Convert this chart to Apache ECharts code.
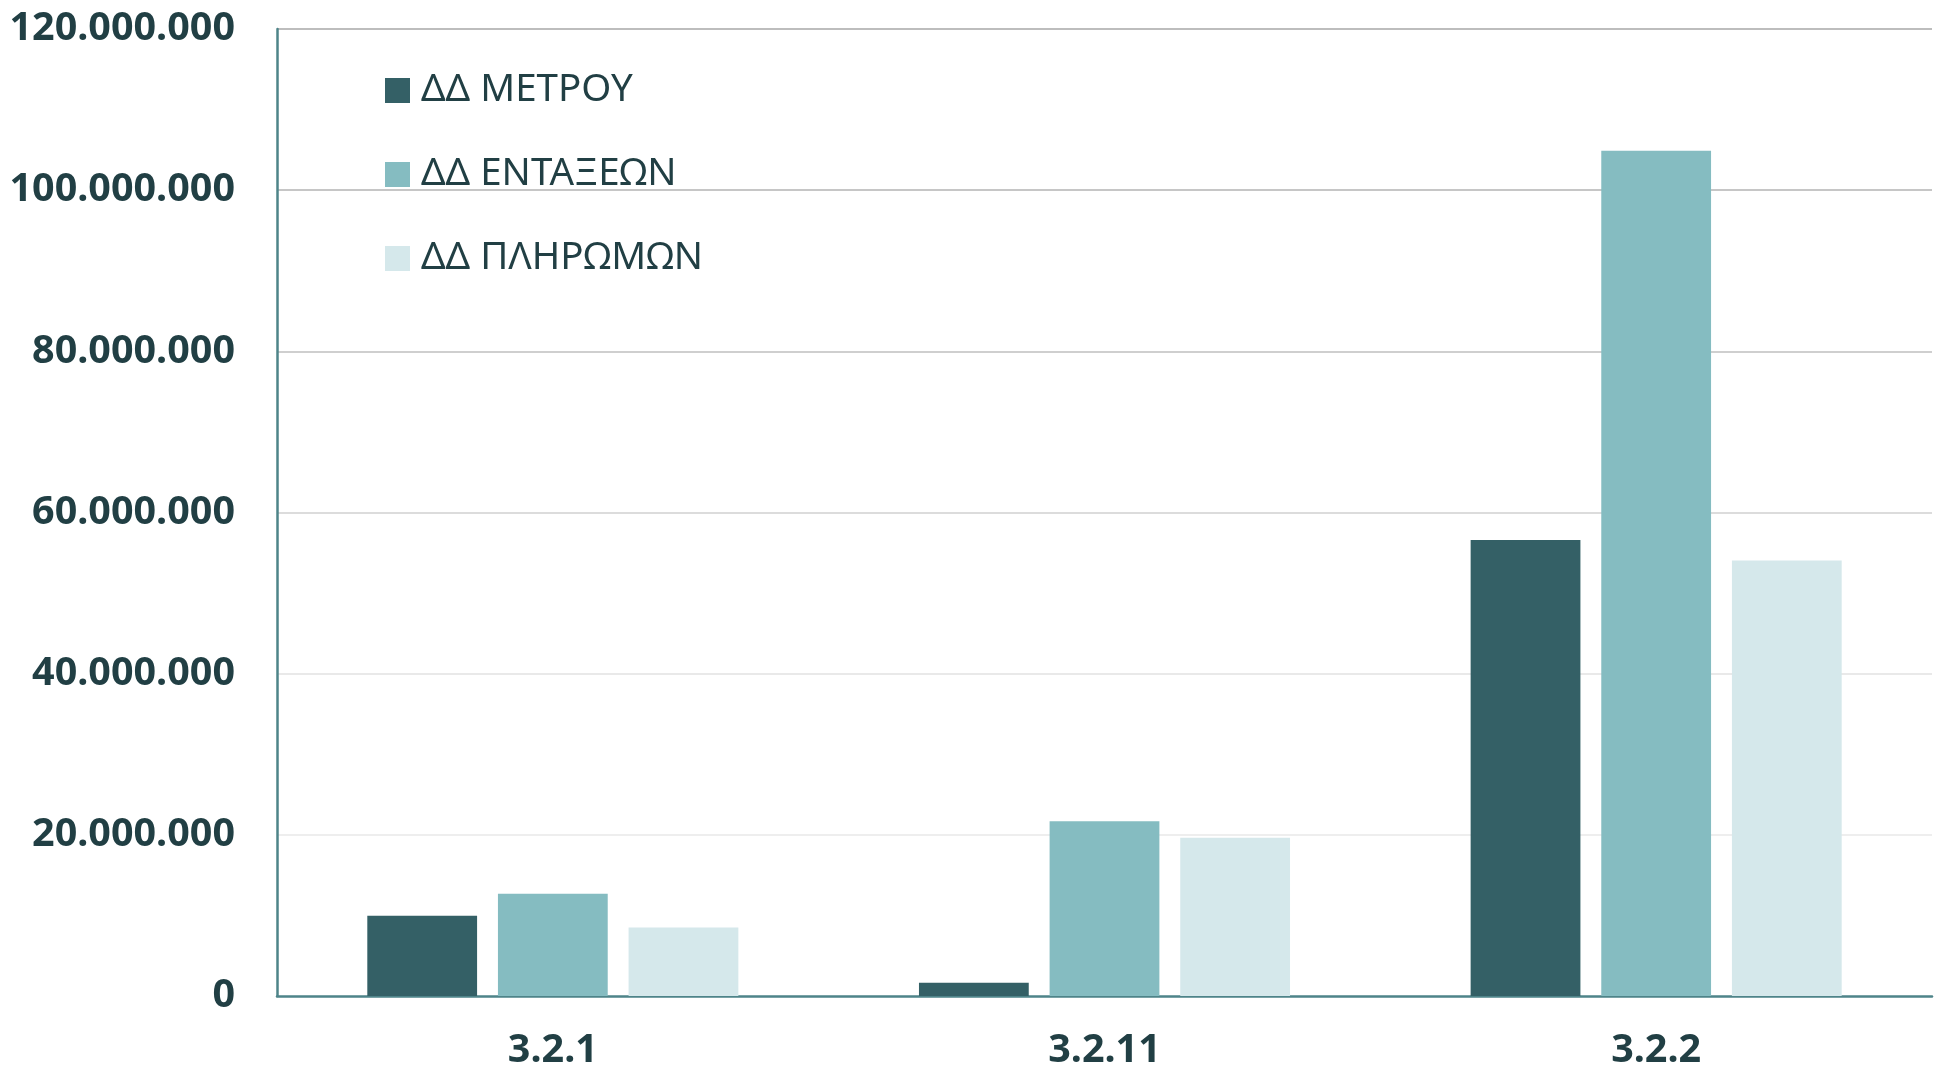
<!DOCTYPE html>
<html>
<head>
<meta charset="utf-8">
<script src="https://cdn.jsdelivr.net/npm/echarts@6/dist/echarts.min.js"></script>
<style>
    html, body { margin: 0; padding: 0; background: #ffffff; }
    #chart { width: 1942px; height: 1071px; }
</style>
</head>
<body>
<div id="chart"></div>
<script>
    // categories and series
    var categories = ['3.2.1', '3.2.11', '3.2.2'];
    var seriesNames = ['ΔΔ ΜΕΤΡΟΥ', 'ΔΔ ΕΝΤΑΞΕΩΝ', 'ΔΔ ΠΛΗΡΩΜΩΝ'];
    var metrou = [9950000, 1650000, 56600000];
    var entaxeon = [12700000, 21700000, 104900000];
    var pliromon = [8500000, 19650000, 54050000];
    var colors = ['#346066', '#85BCC1', '#D5E8EB'];

    var textColor = '#213F44';
    var font = '"Noto Sans", "Open Sans", sans-serif';

    function fmt(v) {
        return String(v).replace(/\B(?=(\d{3})+(?!\d))/g, '.');
    }

    var chart = echarts.init(document.getElementById('chart'));

    var values = [metrou, entaxeon, pliromon];
    var series = [];
    for (var i = 0; i < seriesNames.length; i++) {
        series.push({
            name: seriesNames[i],
            type: 'bar',
            data: values[i],
            barWidth: '19.9%',
            barGap: '19%',
            itemStyle: { color: colors[i] }
        });
    }

    var option = {
        animation: false,
        backgroundColor: '#ffffff',
        color: colors,
        grid: {
            left: 277,
            right: 10,
            top: 29,
            bottom: 75,
            containLabel: false
        },
        legend: {
            orient: 'vertical',
            left: 385,
            top: 70.5,
            padding: 0,
            itemGap: 44,
            itemWidth: 25,
            itemHeight: 25,
            icon: 'rect',
            data: seriesNames,
            textStyle: {
                color: textColor,
                fontFamily: font,
                fontSize: 38.5,
                lineHeight: 40,
                padding: [0, 0, 0, 6]
            }
        },
        xAxis: {
            type: 'category',
            data: categories,
            axisLine: { show: true, lineStyle: { color: '#4E8489', width: 2.5 } },
            axisTick: { show: false },
            axisLabel: {
                color: textColor,
                fontFamily: font,
                fontWeight: 'bold',
                fontSize: 39.5,
                lineHeight: 40,
                margin: 35
            }
        },
        yAxis: {
            type: 'value',
            min: 0,
            max: 120000000,
            interval: 20000000,
            axisLine: { show: true, lineStyle: { color: '#4E8489', width: 2.5 } },
            axisTick: { show: false },
            axisLabel: {
                color: textColor,
                fontFamily: font,
                fontWeight: 'bold',
                fontSize: 39.5,
                margin: 42,
                formatter: function (v) { return fmt(v); }
            },
            splitLine: {
                show: true,
                lineStyle: {
                    color: ['#ffffff', '#eeeeee', '#e9e9e9', '#dcdcdc', '#cfcfcf', '#c6c6c6', '#bdbdbd'],
                    width: 2
                }
            }
        },
        series: series
    };

    chart.setOption(option);
</script>
</body>
</html>
